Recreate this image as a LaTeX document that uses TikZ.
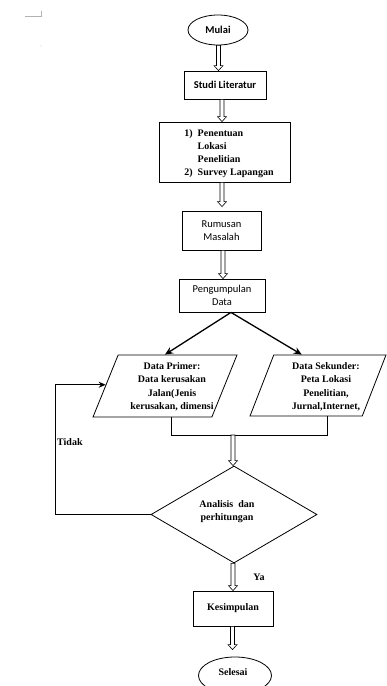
\documentclass[tikz,border=0pt]{standalone}
\usepackage{fontspec}
\setmainfont{Liberation Serif}
\newfontfamily\calib{Carlito}
\usetikzlibrary{shapes.geometric,arrows.meta,calc}
\tikzset{
  box/.style={draw, line width=0.8pt, inner sep=0pt},
  sans/.style={font=\calib\fontsize{10.5}{13}\selectfont, align=center},
  sansb/.style={font=\calib\bfseries\fontsize{10.5}{13}\selectfont, align=center},
  serif/.style={font=\bfseries\fontsize{10}{13.5}\selectfont, align=center},
  para/.style={draw, trapezium, trapezium left angle=75, trapezium right angle=105,
    trapezium stretches=true, line width=0.8pt, inner sep=2pt},
  oval/.style={draw, ellipse, line width=0.8pt, inner sep=0pt},
  hollow/.style={to path={let \p1=(\tikztostart), \p2=(\tikztotarget) in
    (\x1-2pt,\y1) -- (\x1-2pt,\y2+5pt) -- (\x1-4.5pt,\y2+5pt) -- (\x1,\y2)
    -- (\x1+4.5pt,\y2+5pt) -- (\x1+2pt,\y2+5pt) -- (\x1+2pt,\y1) -- cycle}},
  harrow/.style={draw, fill=white, line width=0.6pt},
  split/.style={line width=1.3pt, -{Stealth[length=8pt,width=7pt]}},
  conn/.style={line width=0.8pt},
}
\begin{document}
\begin{tikzpicture}[x=1pt,y=1pt]
\useasboundingbox (0,0) rectangle (387,-686);
% page marks
\draw[gray!60, line width=0.5pt] (25,-16) -- (41.5,-16) -- (41.5,-11);
\fill[gray!40] (41,-46) circle (0.6pt);

\node[oval, minimum width=60pt, minimum height=30pt, sansb] (mulai) at (218,-30) {Mulai};
\node[box, minimum width=82pt, minimum height=28pt, sansb] (studi) at (225,-85) {Studi Literatur};
\node[box, minimum width=131pt, minimum height=60pt] (lokasi) at (224.5,-152) {};
\node[font=\bfseries\fontsize{10}{13}\selectfont, inner sep=0pt] (lokasitxt) at (229,-153.5)
  {\begin{tabular}{@{}l@{\hspace{5pt}}l@{}}1) & Penentuan\\ & Lokasi\\ & Penelitian\\ 2) & Survey Lapangan\end{tabular}};
\node[box, minimum width=79pt, minimum height=39pt, sans] (rumusan) at (221.5,-230.5) {Rumusan\\Masalah};
\node[box, minimum width=86pt, minimum height=33pt, sans] (kumpul) at (222,-295.5) {Pengumpulan\\Data};

\node[para, minimum width=144pt, minimum height=62pt] (primer) at (165,-386) {};
\node[serif] (primertxt) at (172,-387) {Data Primer:\\Data kerusakan\\Jalan(Jenis\\kerusakan, dimensi};
\node[para, minimum width=136pt, minimum height=61pt] (sekunder) at (318,-385.5) {};
\node[serif] (sekundertxt) at (326,-387) {Data Sekunder:\\Peta Lokasi\\Penelitian,\\Jurnal,Internet,};

\node[draw, diamond, minimum width=166pt, minimum height=97pt, inner sep=0pt, line width=0.8pt] (analisis) at (234,-514.5) {};
\node[serif] (analisistxt) at (227,-511.5) {Analisis\ \ dan\\perhitungan};

\node[box, minimum width=80pt, minimum height=35pt, serif] (kesimpulan) at (233,-608.5) {Kesimpulan};
\node[oval, minimum width=73pt, minimum height=37pt] (selesai) at (235,-675.5) {};
\node[serif, inner sep=0pt] (selesaitxt) at (233,-672) {Selesai};

\node[serif, anchor=west, inner sep=0pt] (tidak) at (57,-442) {Tidak};
\node[serif, inner sep=0pt] (ya) at (259,-577) {Ya};

% hollow arrows
\path[harrow] ([xshift=0.5pt]mulai.south) to[hollow] (studi.north);
\path[harrow] ([xshift=-3pt]studi.south) to[hollow] (lokasi.north);
\path[harrow] ([xshift=-2.5pt]lokasi.south) to[hollow] ([yshift=4pt]rumusan.north);
\path[harrow] ([xshift=1.5pt]rumusan.south) to[hollow] (kumpul.north);

% split
\coordinate (splitpt) at ([xshift=9pt]kumpul.south);
\coordinate (sektip) at ($(sekunder.top left corner)!0.25!(sekunder.top right corner)$);
\draw[split] (splitpt) -- (primer.north);
\draw[split] (splitpt) -- (sektip);

% merge
\coordinate (pbot) at ([xshift=6.5pt]primer.south);
\coordinate (sbot) at ([xshift=9pt]sekunder.south);
\coordinate (mergept) at (233,-435);
\draw[conn] (pbot) -- (pbot |- mergept) -- (sbot |- mergept) -- (sbot);
\path[harrow] (mergept) to[hollow] (analisis.north);

% loop back
\coordinate (looptip) at ($(primer.bottom left corner)!0.52!(primer.top left corner)$);
\coordinate (loopx) at (55,-514.5);
\draw[conn, line width=1pt, -{Stealth[length=7pt,width=6pt]}] (analisis.west) -- (loopx) |- (looptip);

% lower arrows
\path[harrow] ([xshift=-1pt]analisis.south) to[hollow] (kesimpulan.north);
\path[harrow] ([xshift=-0.5pt]kesimpulan.south) to[hollow] ([yshift=7pt]selesai.north);
\end{tikzpicture}
\end{document}
